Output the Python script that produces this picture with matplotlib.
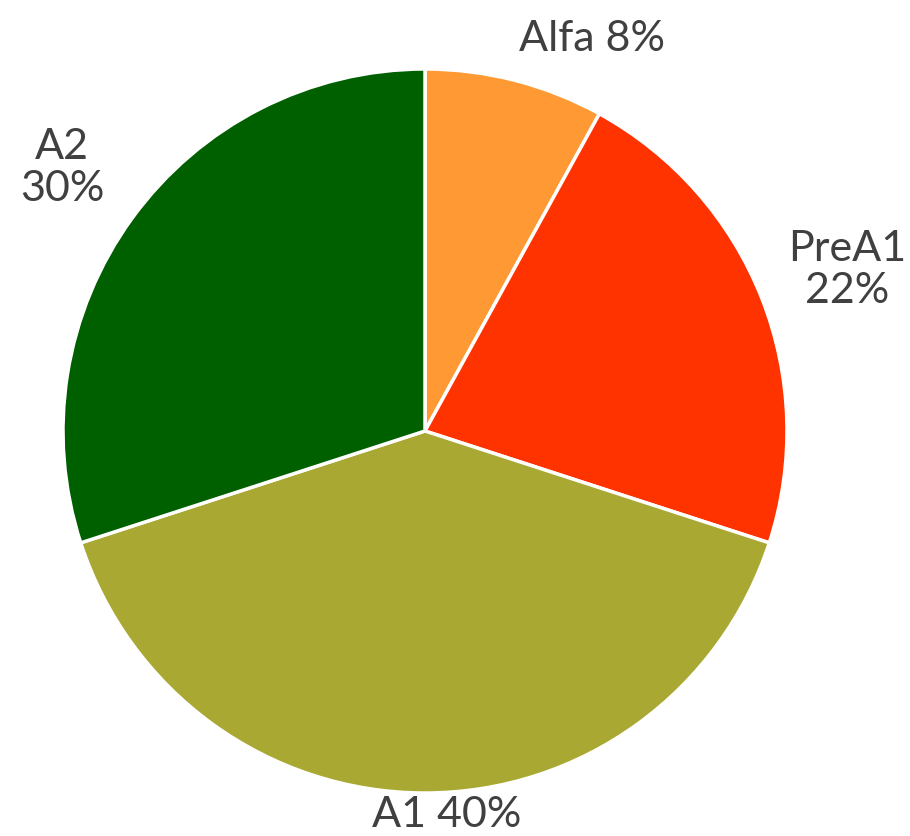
import numpy as np
from matplotlib import pyplot as plt

plt.rcParams['font.family'] = ['Lato', 'DejaVu Sans']

levels = ['Alfa', 'PreA1', 'A1', 'A2']
shares = [8, 22, 40, 30]
colors = ['#FF9933', '#FF3300', '#A8A832', '#006000']
label_texts = ['Alfa 8%', 'PreA1\n22%', 'A1 40%', 'A2\n30%']
# label placement: distance in radii and angle shift from the wedge middle
label_dist = [1.18, 1.25, 1.06, 1.24]
label_shift = [-8.6, -0.6, 3.3, 0.0]

fig = plt.figure(figsize=(9.1, 8.37), dpi=100)
ax = fig.add_axes([0, 0, 1, 1])

wedges, _ = ax.pie(shares, colors=colors, startangle=90, counterclock=False,
                   radius=1.0, wedgeprops=dict(edgecolor='white', linewidth=2.5))

for w, txt, d, s in zip(wedges, label_texts, label_dist, label_shift):
    ang = np.deg2rad((w.theta1 + w.theta2) / 2 + s)
    ax.text(d * np.cos(ang), d * np.sin(ang), txt, ha='center', va='center',
            fontsize=31, color='#404040', linespacing=1.12)

# centre at (425, 432) px, radius 362 px
r = 362.0
ax.set_xlim(-425 / r, (910 - 425) / r)
ax.set_ylim(-(837 - 432) / r, 432 / r)
ax.set_aspect('auto')
ax.axis('off')

fig.savefig('out.png', dpi=100, facecolor='white')
